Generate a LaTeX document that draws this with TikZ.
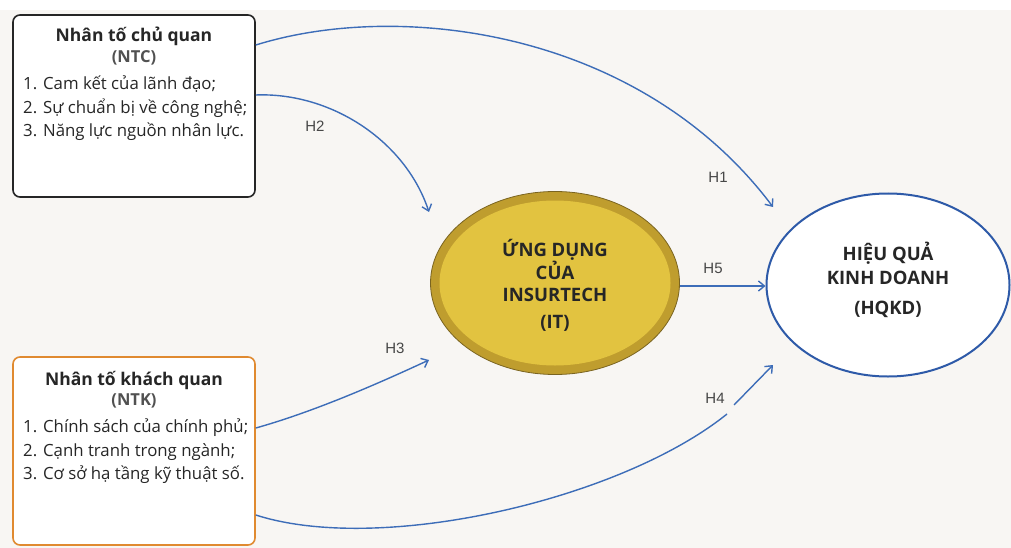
\documentclass[tikz,border=0pt]{standalone}
\usepackage{fontspec}
\setmainfont{Open Sans}
\newfontfamily\labfont{Liberation Sans}
\usetikzlibrary{arrows.meta,shapes.geometric,calc}
\definecolor{bgc}{HTML}{F8F6F3}
\definecolor{arrc}{HTML}{3D6DB8}
\definecolor{hqc}{HTML}{2E5AA8}
\definecolor{orc}{HTML}{E08A30}
\definecolor{goldout}{HTML}{BF9D2E}
\definecolor{goldin}{HTML}{E2C340}
\definecolor{golddark}{HTML}{7A6420}
\definecolor{txt}{HTML}{262626}
\tikzset{
  boxshape/.style={draw, line width=1.6pt, rounded corners=7pt, fill=white, minimum width=242pt, inner sep=0pt},
  boxtitle/.style={font=\bfseries\fontsize{17.5}{20}\selectfont, text=txt, inner sep=0pt},
  boxabbr/.style={font=\bfseries\fontsize{16.5}{18}\selectfont, text=txt!80, inner sep=0pt},
  boxlist/.style={font=\fontsize{16.8}{23.5}\selectfont, text=txt, align=left, anchor=north west, inner sep=0pt},
  ellt/.style={font=\bfseries\fontsize{18.5}{24}\selectfont, text=txt, align=center, inner sep=0pt},
  arr/.style={draw=arrc, line width=1.4pt, -{Straight Barb[length=6pt,width=10pt]}},
  lab/.style={font=\labfont\fontsize{15}{17}\selectfont, text=txt!85, inner sep=0pt},
}
\begin{document}
\begin{tikzpicture}[x=1pt,y=-1pt]
\useasboundingbox (0,0) rectangle (1011,548);
\fill[white] (0,0) rectangle (1011,10);
\fill[bgc] (0,10) rectangle (1011,548);

% boxes
\node[boxshape, draw=black!85, minimum height=182pt] (ntc) at (134,106) {};
\node[boxtitle] (ntcT) at (134,36) {Nhân tố chủ quan};
\node[boxabbr] (ntcA) at (134,58) {(NTC)};
\node[boxlist] (ntcL) at (23,76) {1. Cam kết của lãnh đạo;\\2. Sự chuẩn bị về công nghệ;\\3. Năng lực nguồn nhân lực.};

\node[boxshape, draw=orc, minimum height=188pt] (ntk) at (134,451) {};
\node[boxtitle] (ntkT) at (134,380) {Nhân tố khách quan};
\node[boxabbr] (ntkA) at (134,401) {(NTK)};
\node[boxlist] (ntkL) at (23,419) {1. Chính sách của chính phủ;\\2. Cạnh tranh trong ngành;\\3. Cơ sở hạ tầng kỹ thuật số.};

% ellipses
\node[ellipse, draw=golddark, line width=0.8pt, fill=goldout, minimum width=249pt, minimum height=183pt] (it) at (555,283) {};
\node[ellipse, fill=goldin, minimum width=231pt, minimum height=165pt] (itin) at (555,283) {};
\node[ellt] (itT) at (555,285) {ỨNG DỤNG\\[-1pt]CỦA\\[-2pt]INSURTECH\\[3pt](IT)};

\node[ellipse, draw=hqc, line width=2pt, fill=white, minimum width=243pt, minimum height=183pt] (hq) at (888,285) {};
\node[ellt] (hqT) at (888,280) {HIỆU QUẢ\\KINH DOANH\\[6pt](HQKD)};

% connectors
\coordinate (t1) at (773,207);
\coordinate (t2) at (429,212);
\coordinate (t3) at (429,360);
\coordinate (g1) at (727,414);
\coordinate (g2) at (734,405);
\coordinate (t4) at (773,365);

\draw[arr] (ntc.east |- 0,45) .. controls (400,0) and (640,30) .. (t1);
\draw[arr] (ntc.east |- 0,95) .. controls (330,92) and (405,140) .. (t2);
\draw[arr] (ntk.east |- 0,428) .. controls (320,410) and (390,378) .. (t3);
\draw[draw=arrc, line width=1.4pt] (ntk.east |- 0,515) .. controls (380,555) and (620,500) .. (g1);
\draw[arr] (g2) -- (t4);
\draw[arr] (it.east |- 0,286) -- (hq.west |- 0,286);

\node[lab] (h1) at (718,177) {H1};
\node[lab] (h2) at (315,126) {H2};
\node[lab] (h3) at (395,348) {H3};
\node[lab] (h4) at (715,398) {H4};
\node[lab] (h5) at (713,268) {H5};
\end{tikzpicture}
\end{document}
